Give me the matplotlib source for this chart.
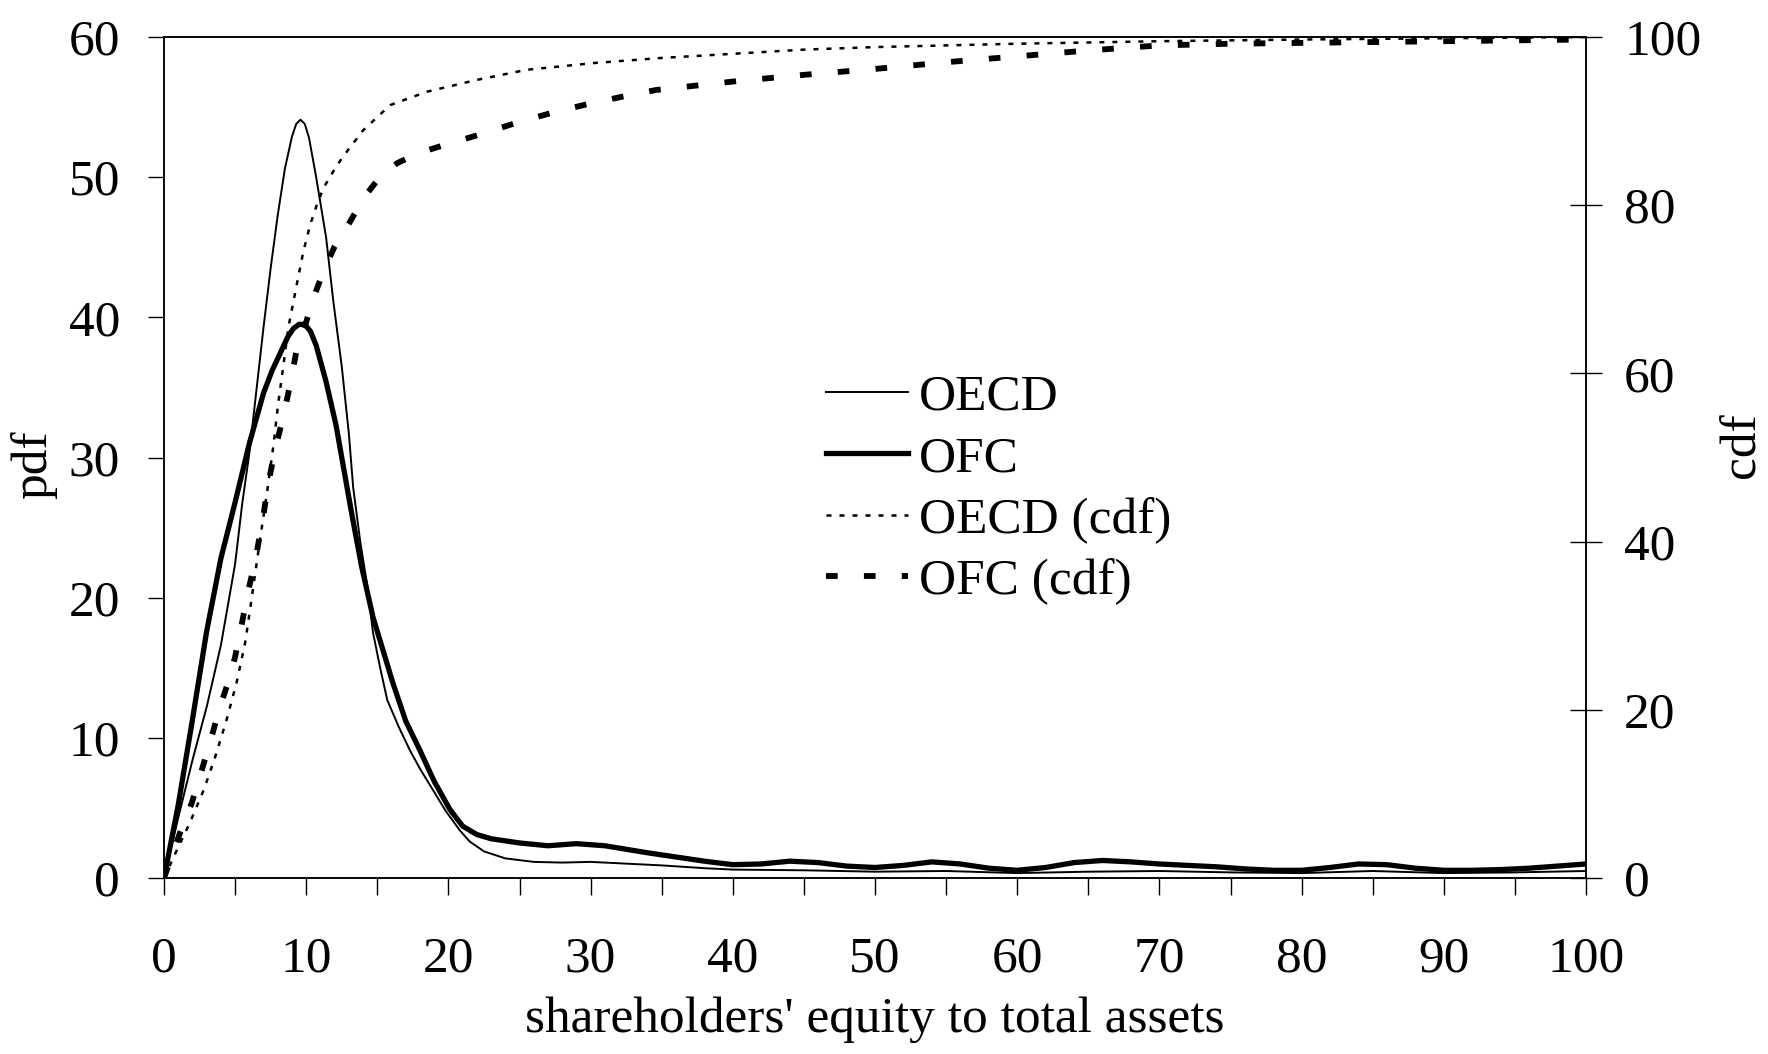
import matplotlib
matplotlib.use("Agg")
import matplotlib.pyplot as plt

plt.rcParams['font.family'] = ['Liberation Serif', 'DejaVu Serif']

# ---- data ----
oecd_pdf_x = [0, 1, 2, 3, 4, 5, 5.5, 6, 6.5, 7, 7.5, 8, 8.5, 9, 9.3, 9.6, 9.9, 10.2, 10.7, 11.4,
              11.9, 12.5, 13.0, 13.3, 13.8, 14.3, 14.7, 15.2, 15.7, 16.5, 17.3, 18, 18.9, 19.8,
              20.8, 21.5, 22.5, 24, 26, 28, 30, 32, 35, 38, 40, 45, 50, 55, 60, 65, 70, 75, 80,
              85, 90, 95, 100]
oecd_pdf = [0, 4.3, 8.4, 12.2, 16.6, 22.4, 26.7, 30.3, 34.8, 39.3, 43.5, 47.3, 50.6, 52.9, 53.8,
            54.1, 53.8, 52.8, 50.0, 45.7, 41.2, 36.5, 31.7, 27.9, 24.0, 20.8, 17.5, 15.0, 12.7,
            10.8, 9.1, 7.8, 6.3, 4.8, 3.4, 2.6, 1.9, 1.4, 1.15, 1.1, 1.15, 1.05, 0.9, 0.7, 0.6,
            0.55, 0.45, 0.5, 0.35, 0.45, 0.5, 0.4, 0.35, 0.5, 0.35, 0.4, 0.5]

ofc_pdf_x = [0, 1, 2, 3, 4, 5, 6, 7, 7.6, 8.2, 8.7, 9.1, 9.5, 9.9, 10.3, 10.7, 11.4, 12.1,
             12.5, 13.2, 13.9, 14.7, 16.1, 17, 18, 19, 20.1, 21, 22, 23, 25, 27, 29, 31, 34, 36,
             38, 40, 42, 44, 46, 48, 50, 52, 54, 56, 58, 60, 62, 64, 66, 68, 70, 72, 74, 76, 78,
             80, 82, 84, 86, 88, 90, 92, 94, 96, 98, 100]
ofc_pdf = [0, 5.2, 11.3, 17.6, 22.8, 26.8, 31.0, 34.6, 36.2, 37.5, 38.6, 39.2, 39.5, 39.5, 39.0,
           38.0, 35.4, 32.3, 30.0, 26.0, 22.2, 18.6, 13.9, 11.2, 9.1, 6.9, 4.9, 3.7, 3.1, 2.8,
           2.5, 2.3, 2.45, 2.3, 1.8, 1.5, 1.2, 0.95, 1.0, 1.2, 1.1, 0.85, 0.75, 0.9, 1.15, 1.0,
           0.7, 0.55, 0.75, 1.1, 1.25, 1.15, 1.0, 0.9, 0.8, 0.65, 0.55, 0.55, 0.75, 1.0, 0.95,
           0.7, 0.55, 0.55, 0.6, 0.7, 0.85, 1.0]

oecd_cdf_x = [0, 0.9, 1.8, 2.8, 3.6, 4.4, 5.1, 5.7, 6.05, 6.75, 7.3, 7.7, 8.0, 8.4, 8.75, 9.33,
              9.8, 10.3, 10.74, 11.2, 12, 12.6, 14, 15.9, 18.5, 22, 25.5, 30.2, 34.9, 40, 45, 50,
              55, 60, 70, 80, 90, 100]
oecd_cdf = [0, 3.3, 6.5, 10.5, 14.4, 18.8, 23.2, 27.9, 31.9, 40.2, 46.5, 51.5, 56.0, 61.0, 65.5,
            70.5, 74.5, 77.8, 80.0, 82.0, 84.3, 85.8, 88.9, 91.9, 93.5, 94.9, 96.1, 96.9, 97.5,
            98.0, 98.5, 98.8, 99.0, 99.2, 99.5, 99.7, 99.85, 100]

ofc_cdf_x = [0, 1.13, 1.95, 2.65, 3.35, 3.94, 4.64, 5.0, 5.46, 5.93, 6.4, 6.98, 7.33, 7.81, 8.39,
             8.86, 9.33, 9.8, 10.5, 11.2, 12.0, 13.0, 14.1, 15.2, 16.4, 17.9, 19.8, 22.0, 24.6,
             27.5, 30.0, 32.5, 34.6, 40, 45, 50, 55, 60, 65, 70, 75, 80, 85, 90, 95, 100]
ofc_cdf = [0, 5.4, 8.9, 12.8, 16.8, 20.4, 23.9, 26.3, 30.1, 34.2, 37.6, 43.0, 46.9, 50.9, 54.9,
           58.6, 62.8, 65.0, 68.9, 72.1, 75.1, 77.8, 81.0, 83.4, 85.0, 86.2, 87.2, 88.3, 89.7,
           91.1, 92.1, 93.0, 93.7, 94.7, 95.5, 96.2, 97.0, 97.7, 98.4, 99.0, 99.2, 99.3, 99.4,
           99.5, 99.6, 99.7]

x_ticks = list(range(0, 101, 5))
x_labels = [str(v) if v % 10 == 0 else '' for v in x_ticks]
pdf_ticks = [0, 10, 20, 30, 40, 50, 60]
cdf_ticks = [0, 20, 40, 60, 80, 100]
series_names = ['OECD', 'OFC', 'OECD (cdf)', 'OFC (cdf)']

# ---- figure ----
W, H = 1768, 1054
fig = plt.figure(figsize=(W / 100, H / 100), dpi=100)
ax = fig.add_axes([164 / W, 176 / H, 1422 / W, 841 / H])
ax2 = ax.twinx()

FS = 37
l1, = ax.plot(oecd_pdf_x, oecd_pdf, color='black', lw=1.4, label=series_names[0])
l2, = ax.plot(ofc_pdf_x, ofc_pdf, color='black', lw=3.8, label=series_names[1])
l3, = ax2.plot(oecd_cdf_x, oecd_cdf, color='black', lw=1.8, dashes=(2, 3.2), label=series_names[2])
l4, = ax2.plot(ofc_cdf_x, ofc_cdf, color='black', lw=4.2, dashes=(2, 4.5), label=series_names[3])

ax.set_xlim(0, 100)
ax.set_ylim(0, 60)
ax2.set_ylim(0, 100)

ax.set_xticks(x_ticks)
ax.set_xticklabels(x_labels)
ax.set_yticks(pdf_ticks)
ax2.set_yticks(cdf_ticks)

for a in (ax, ax2):
    for s in a.spines.values():
        s.set_linewidth(1.1)
        s.set_color('black')

ax.tick_params(axis='x', direction='out', length=12, width=1.0, pad=30, labelsize=FS)
ax.tick_params(axis='y', direction='out', length=11.5, width=1.0, pad=20, labelsize=FS)
ax2.tick_params(axis='y', direction='inout', length=23, width=1.0, pad=16, labelsize=FS)

ax.set_xlabel("shareholders' equity to total assets", fontsize=FS)
ax.xaxis.set_label_coords(0.50, -0.169)
ax.xaxis.label.set_verticalalignment('center')
ax.set_ylabel('pdf', fontsize=FS)
ax.yaxis.set_label_coords(-0.0914, 0.491)
ax.yaxis.label.set_verticalalignment('center')
ax2.set_ylabel('cdf', fontsize=FS, rotation=90)
ax2.yaxis.set_label_coords(1.110, 0.515)
ax2.yaxis.label.set_verticalalignment('center')

leg = ax2.legend(handles=[l1, l2, l3, l4], loc='upper left',
                 bbox_to_anchor=(826 / W, (H - 374) / H), bbox_transform=fig.transFigure,
                 frameon=False, fontsize=FS, borderpad=0, borderaxespad=0,
                 handlelength=1.6, handletextpad=0.21, labelspacing=0.28)

fig.savefig('out.png', dpi=100)
